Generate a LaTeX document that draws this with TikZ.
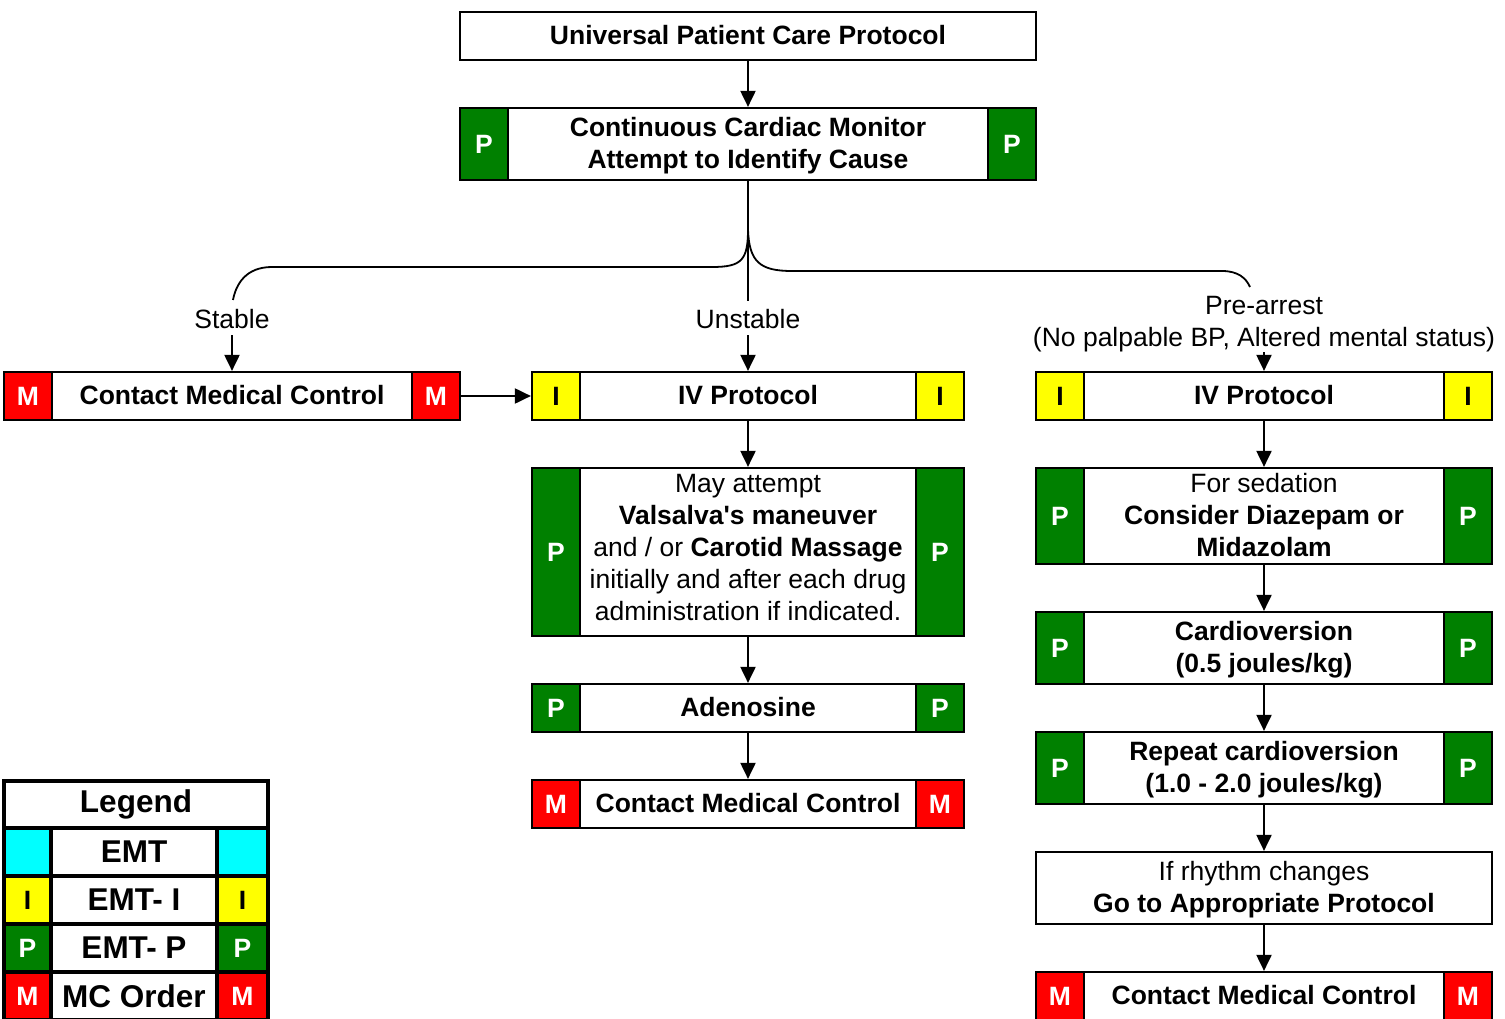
\documentclass[tikz,border=0pt]{standalone}
\usepackage{fontspec}
\setmainfont{Liberation Sans}
\usetikzlibrary{arrows.meta}
\definecolor{pgreen}{RGB}{0,128,0}
\definecolor{pred}{RGB}{255,0,0}
\definecolor{pyellow}{RGB}{255,255,0}
\definecolor{pcyan}{RGB}{0,255,255}
\newcommand{\ft}{\fontsize{26.5}{32}\selectfont}
\newcommand{\lft}{\fontsize{31.5}{36}\selectfont\bfseries}
\tikzset{
  boxsty/.style={draw, line width=2.2pt, fill=white, inner sep=0pt},
  txt/.style={inner sep=0pt, align=center, font=\ft},
  band/.style={draw, line width=2.2pt, inner sep=0pt, minimum width=48pt, font=\ft\bfseries},
  arr/.style={-{Triangle[width=15pt,length=16pt]}, line width=2pt},
  conn/.style={line width=1.8pt},
  lcell/.style={draw, line width=4pt, inner sep=0pt, font=\lft},
  lletter/.style={lcell, font=\ft\bfseries},
}
% name, cx, cy, width, height, text, text y shift
\newcommand{\flowbox}[7]{%
  \node[boxsty, minimum width=#4pt, minimum height=#5pt] (#1) at (#2,#3) {};
  \node[txt] (#1-t) at ([yshift=#7pt]#1.center) {#6};
}
% name, height, fill, letter colour, letter
\newcommand{\bands}[5]{%
  \node[band, minimum height=#2pt, fill=#3, text=#4, anchor=north west] (#1-l) at (#1.north west) {#5};
  \node[band, minimum height=#2pt, fill=#3, text=#4, anchor=north east] (#1-r) at (#1.north east) {#5};
}
\begin{document}
\begin{tikzpicture}[x=1pt,y=-1pt]
\useasboundingbox (0,0) rectangle (1505,1019);
\fill[white] (0,0) rectangle (1505,1019);

% central column top
\flowbox{top}{748}{36}{576}{48}{\bfseries Universal Patient Care Protocol}{1}
\flowbox{cm}{748}{144}{576}{72}{\bfseries Continuous Cardiac Monitor\\\bfseries Attempt to Identify Cause}{-2}
\bands{cm}{72}{pgreen}{white}{P}

% branch labels
\node[txt] (stable) at (232,319) {Stable};
\node[txt] (unstable) at (748,319) {Unstable};
\node[txt] (pre) at (1264,324) {Pre-arrest\\(No palpable BP, Altered mental status)};

% left
\flowbox{cmc1}{232}{396}{456}{48}{\bfseries Contact Medical Control}{1}
\bands{cmc1}{48}{pred}{white}{M}

% middle column
\flowbox{iv1}{748}{396}{432}{48}{\bfseries IV Protocol}{1}
\bands{iv1}{48}{pyellow}{black}{I}
\flowbox{val}{748}{552}{432}{168}{May attempt\\\textbf{Valsalva\textquotesingle s maneuver}\\and / or \textbf{Carotid Massage}\\initially and after each drug\\administration if indicated.}{4}
\bands{val}{168}{pgreen}{white}{P}
\flowbox{ade}{748}{708}{432}{48}{\bfseries Adenosine}{1}
\bands{ade}{48}{pgreen}{white}{P}
\flowbox{cmc2}{748}{804}{432}{48}{\bfseries Contact Medical Control}{1}
\bands{cmc2}{48}{pred}{white}{M}

% right column
\flowbox{iv2}{1264}{396}{456}{48}{\bfseries IV Protocol}{1}
\bands{iv2}{48}{pyellow}{black}{I}
\flowbox{sed}{1264}{516}{456}{96}{For sedation\\\textbf{Consider Diazepam or}\\\textbf{Midazolam}}{1}
\bands{sed}{96}{pgreen}{white}{P}
\flowbox{car}{1264}{648}{456}{72}{\bfseries Cardioversion\\\bfseries (0.5 joules/kg)}{-2}
\bands{car}{72}{pgreen}{white}{P}
\flowbox{rep}{1264}{768}{456}{72}{\bfseries Repeat cardioversion\\\bfseries (1.0 - 2.0 joules/kg)}{-2}
\bands{rep}{72}{pgreen}{white}{P}
\flowbox{rhy}{1264}{888}{456}{72}{If rhythm changes\\\textbf{Go to Appropriate Protocol}}{-2}
\flowbox{cmc3}{1264}{996}{456}{48}{\bfseries Contact Medical Control}{1}
\bands{cmc3}{48}{pred}{white}{M}

% connectors
\draw[arr] (top.south) -- (cm.north);
\coordinate (br) at ([yshift=-48pt]cm.south);
\draw[conn] (cm.south) -- ++(0,120);
\draw[conn] (br) .. controls (748,260) and (742,267) .. (712,267) -- (272,267)
  .. controls (246,267) and (236,284) .. (233,300);
\draw[conn] (br) .. controls (749,262) and (760,271) .. (792,271) -- (1222,271)
  .. controls (1238,271) and (1246,278) .. (1250,287);
\draw[arr] (stable.center) ++(0,16) -- (cmc1.north);
\draw[arr] (unstable.center) ++(0,16) -- (iv1.north);
\draw[arr] (pre.south) -- (iv2.north);
\draw[arr] (cmc1-r.east) -- (iv1-l.west);
\draw[arr] (iv1.south) -- (val.north);
\draw[arr] (val.south) -- (ade.north);
\draw[arr] (ade.south) -- (cmc2.north);
\draw[arr] (iv2.south) -- (sed.north);
\draw[arr] (sed.south) -- (car.north);
\draw[arr] (car.south) -- (rep.north);
\draw[arr] (rep.south) -- (rhy.north);
\draw[arr] (rhy.south) -- (cmc3.north);

% legend
\node[lcell, fill=white, minimum width=264pt, minimum height=47pt] (lg) at (136,804.5) {\raisebox{-1pt}{Legend}};
\node[lcell, fill=white, minimum width=166pt, minimum height=48pt] (lg1) at (134,852) {EMT};
\node[lcell, fill=pcyan, minimum width=47pt, minimum height=48pt] (lg1l) at (27.5,852) {};
\node[lcell, fill=pcyan, minimum width=51pt, minimum height=48pt] (lg1r) at (242.5,852) {};
\node[lcell, fill=white, minimum width=166pt, minimum height=48pt] (lg2) at (134,900) {EMT- I};
\node[lletter, fill=pyellow, minimum width=47pt, minimum height=48pt] (lg2l) at (27.5,900) {I};
\node[lletter, fill=pyellow, minimum width=51pt, minimum height=48pt] (lg2r) at (242.5,900) {I};
\node[lcell, fill=white, minimum width=166pt, minimum height=48pt] (lg3) at (134,948) {EMT- P};
\node[lletter, fill=pgreen, text=white, minimum width=47pt, minimum height=48pt] (lg3l) at (27.5,948) {P};
\node[lletter, fill=pgreen, text=white, minimum width=51pt, minimum height=48pt] (lg3r) at (242.5,948) {P};
\node[lcell, fill=white, minimum width=166pt, minimum height=48pt] (lg4) at (134,996) {MC Order};
\node[lletter, fill=pred, text=white, minimum width=47pt, minimum height=48pt] (lg4l) at (27.5,996) {M};
\node[lletter, fill=pred, text=white, minimum width=51pt, minimum height=48pt] (lg4r) at (242.5,996) {M};
\end{tikzpicture}
\end{document}
